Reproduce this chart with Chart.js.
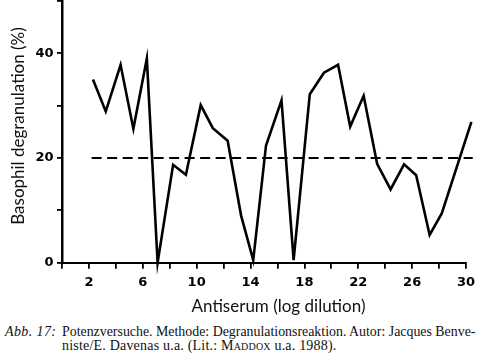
<!DOCTYPE html>
<html>
<head>
<meta charset="utf-8">
<script src="https://cdn.jsdelivr.net/npm/chart.js@4"></script>
<style>
  html, body { margin: 0; padding: 0; background: #fff; width: 480px; height: 357px; overflow: hidden; }
  #wrap { position: absolute; left: 0; top: 0; width: 480px; height: 322px; }
  .cap { position: absolute; font-family: "Liberation Serif", serif; font-size: 14px; line-height: 14px; color: #111; white-space: nowrap; }
  .sc { font-variant: small-caps; }
</style>
</head>
<body>
<div id="wrap"><canvas id="c" width="480" height="322"></canvas></div>
<div class="cap" style="left:5px; top:325px; font-style:italic; letter-spacing:0.4px;">Abb. 17:</div>
<div class="cap" id="line1" style="left:62px; top:325px;">Potenzversuche. Methode: Degranulationsreaktion. Autor: Jacques Benve-</div>
<div class="cap" style="left:62px; top:339px; letter-spacing:0.2px;">niste/E. Davenas u.a. (Lit.: <span class="sc">Maddox</span> u.a. 1988).</div>
<script>
// fit caption line 1 to the reference width (62px .. 476px)
(function () {
  const el = document.getElementById('line1');
  const w = el.getBoundingClientRect().width;
  if (w > 414) el.style.fontSize = (14 * 414 / w).toFixed(2) + 'px';
  else el.style.wordSpacing = ((414 - w) / 7).toFixed(2) + 'px';
})();

// Antiserum dilution (log) positions
const dilution = [2.3, 3.25, 4.35, 5.3, 6.3, 7.1, 8.25, 9.2, 10.3, 11.2, 12.3, 13.3, 14.2, 15.15, 16.3, 17.2, 18.4, 19.45, 20.5, 21.4, 22.4, 23.4, 24.4, 25.4, 26.3, 27.3, 28.2, 30.4];
// Basophil degranulation (%)
const degranulation = [35, 28.9, 37.8, 25.6, 39, 0, 18.7, 16.8, 30.1, 25.7, 23.3, 9, 0.5, 22.4, 31, 0.5, 32.2, 36.3, 37.8, 26, 31.9, 18.9, 14, 18.8, 16.7, 5.3, 9.4, 26.9];
// Reference (dashed) line
const refX = [2.2, 30.5];
const refY = [20, 20];
// Tick labels
const xLabelTicks = [2, 6, 10, 14, 18, 22, 26, 30];
const yLabelTicks = [0, 20, 40];
// Axis titles
const xTitle = 'Antiserum (log dilution)';
const yTitle = 'Basophil degranulation (%)';

const mainData = dilution.map((x, i) => ({ x: x, y: degranulation[i] }));
const refData = refX.map((x, i) => ({ x: x, y: refY[i] }));

const titlePlugin = {
  id: 'axisTitles',
  afterDraw(chart) {
    const ctx = chart.ctx;
    ctx.save();
    ctx.fillStyle = '#111';
    ctx.font = '17px Lato';
    ctx.textAlign = 'center';
    ctx.textBaseline = 'middle';
    ctx.fillText(xTitle, 278.5, 307);
    ctx.translate(19, 126);
    ctx.rotate(-Math.PI / 2);
    ctx.fillText(yTitle, 0, 0);
    ctx.restore();
  }
};

new Chart(document.getElementById('c'), {
  type: 'line',
  data: {
    datasets: [
      { data: mainData, borderColor: '#000', borderWidth: 2.6, pointRadius: 0, tension: 0, fill: false, clip: false, borderJoinStyle: 'miter' },
      { data: refData, borderColor: '#000', borderWidth: 2, borderDash: [10, 5.5], pointRadius: 0, tension: 0, fill: false, clip: false }
    ]
  },
  plugins: [titlePlugin],
  options: {
    responsive: false,
    animation: false,
    events: [],
    layout: { padding: { left: 0, right: 14, top: 1, bottom: 0 } },
    plugins: { legend: { display: false }, tooltip: { enabled: false } },
    scales: {
      x: {
        type: 'linear',
        min: 0, max: 30,
        afterFit: (s) => { s.height = 59.3; s.paddingLeft = 0; s.paddingRight = 0; },
        border: { display: true, color: '#000', width: 2 },
        grid: { display: true, drawOnChartArea: false, drawTicks: true, tickLength: 6, color: '#000', lineWidth: 1.8 },
        ticks: {
          stepSize: 2, autoSkip: false, maxRotation: 0, padding: 6, color: '#000',
          font: { family: 'DejaVu Sans', weight: 'bold', size: 13 },
          callback: (v) => xLabelTicks.includes(v) ? String(v) : ''
        }
      },
      y: {
        type: 'linear',
        min: 0, max: 50,
        afterFit: (s) => { s.width = 62; s.paddingTop = 0; s.paddingBottom = 0; },
        border: { display: true, color: '#000', width: 2.5 },
        grid: { display: true, drawOnChartArea: false, drawTicks: true, tickLength: 5, color: '#000', lineWidth: 1.8 },
        ticks: {
          stepSize: 10, padding: 3.5, color: '#000',
          font: { family: 'DejaVu Sans', weight: 'bold', size: 13 },
          callback: (v) => yLabelTicks.includes(v) ? String(v) : ''
        }
      }
    }
  }
});
</script>
</body>
</html>
